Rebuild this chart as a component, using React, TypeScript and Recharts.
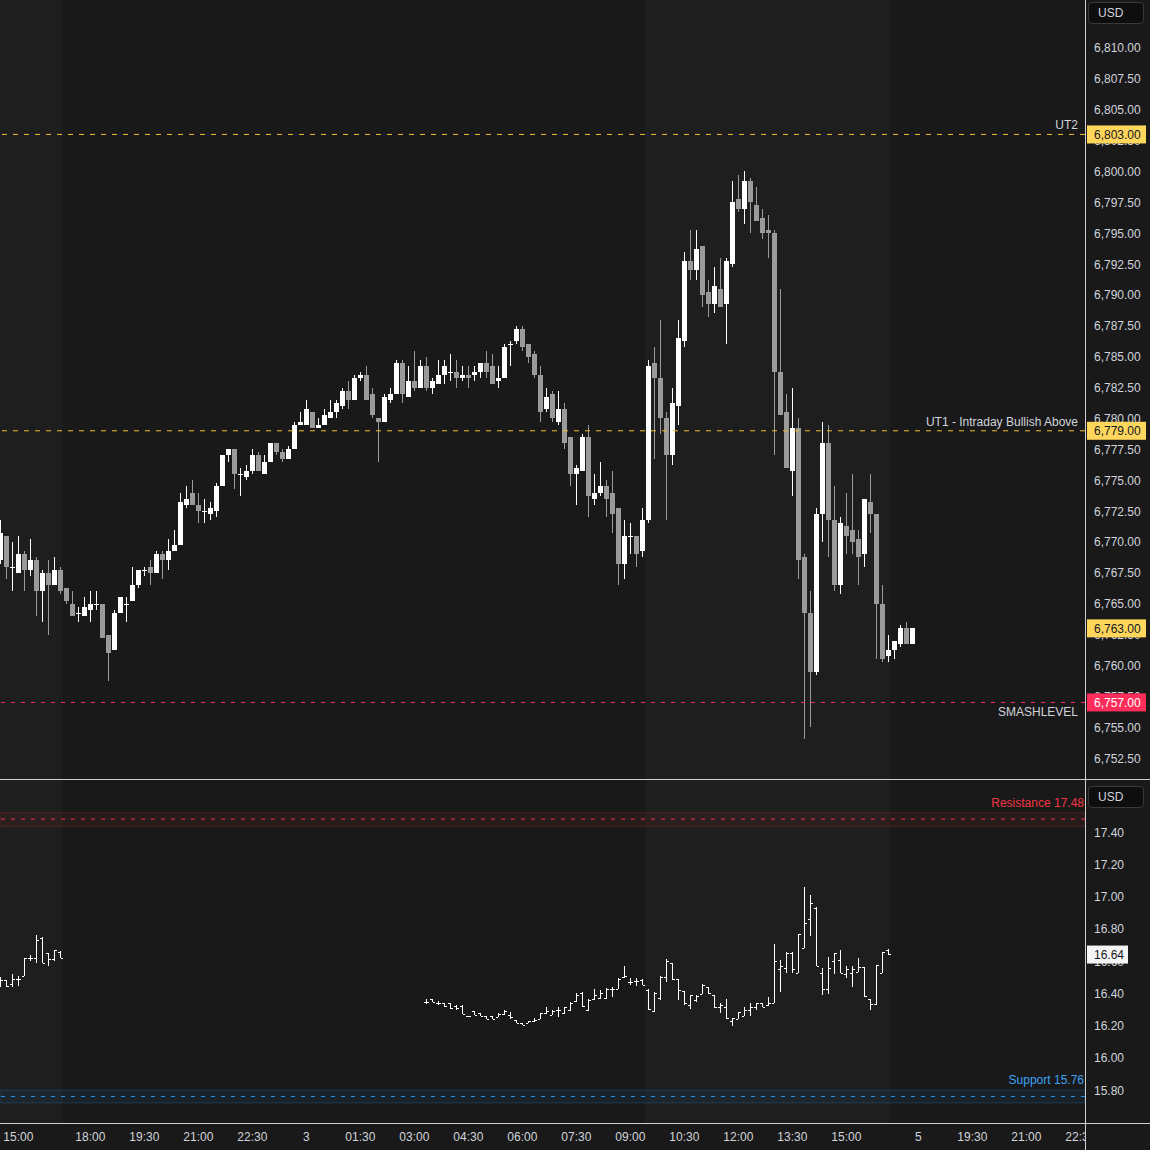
import React from "react";
import { ComposedChart, Bar, XAxis, YAxis, ReferenceLine, ReferenceArea } from "recharts";

// 10-minute ES candles, slot 0 = 14:30 (slot 3 = 15:00)
const esOpen = [
  6768.5, 6770.5, 6768, 6767.5, 6769, 6767.75, 6768.5, 6766, 6767.5, 6766.5,
  6767.75, 6766.25, 6765, 6764.25, 6764, 6764.5, 6765, 6765, 6762.5, 6761.25,
  6764.25, 6765, 6765.25, 6766.5, 6767.75, 6768, 6767.5, 6769, 6768.5, 6769.25,
  6769.75, 6773, 6774, 6773, 6772.5, 6772.25, 6772.5, 6774.5, 6777, 6777.5,
  6775.5, 6775.25, 6775.75, 6777, 6775.5, 6776.5, 6778, 6777.25, 6776.75, 6777.5,
  6779.5, 6779.5, 6780.5, 6779.25, 6779.5, 6780, 6780.5, 6781, 6782.25, 6781.5,
  6783.25, 6783.5, 6782, 6780, 6779.75, 6781.5, 6782, 6784.5, 6781.75, 6783,
  6782.5, 6784.25, 6782.5, 6782.75, 6783.5, 6783.75, 6783.75, 6783.25, 6783.5, 6783.5,
  6783.75, 6784.5, 6784.25, 6783, 6783.25, 6786, 6786.25, 6787.25, 6786, 6785.25,
  6783.5, 6780.75, 6782, 6779.75, 6780.75, 6778.5, 6775.5, 6775.75, 6778.5, 6773.5,
  6774, 6774.5, 6774, 6772.75, 6768.25, 6770.5, 6770.5, 6769.25, 6771.75, 6784.5,
  6783.25, 6780, 6777, 6781, 6786.25, 6792.75, 6792, 6794, 6790.25, 6789.25,
  6790.5, 6789.25, 6792.5, 6797.75, 6797, 6799.25, 6797.25, 6796.25, 6795.25, 6795,
  6783.75, 6780.5, 6775.75, 6779.25, 6768.75, 6764.25, 6759.5, 6772.25, 6778, 6771.75,
  6766.5, 6771.25, 6771, 6770.25, 6769, 6773.25, 6772.25, 6765, 6760.75, 6761.25,
  6761.75, 6763, 6761.75,
];
const esHigh = [
  6771.75, 6770.5, 6770, 6770.5, 6769.25, 6770.25, 6768.75, 6767.75, 6768.5, 6768.75,
  6768, 6766.25, 6766, 6764.75, 6765.5, 6766, 6766, 6765, 6762.5, 6764.5,
  6765.5, 6765.5, 6768, 6767.75, 6768, 6768.5, 6769.25, 6769.25, 6770.25, 6771,
  6774, 6774.5, 6775, 6774, 6773.5, 6773.25, 6774.75, 6777, 6777.5, 6777.5,
  6776, 6776.25, 6777.5, 6777.25, 6777, 6778, 6778, 6777.5, 6777.75, 6779.75,
  6780.5, 6781.5, 6780.5, 6780, 6780.75, 6781.5, 6781.5, 6782.5, 6783, 6783.5,
  6783.75, 6784.25, 6782.5, 6780, 6782, 6782.5, 6784.75, 6784.75, 6784.25, 6785.5,
  6784.75, 6785, 6783.25, 6784.75, 6784.75, 6785.25, 6784.75, 6784.25, 6784.25, 6784.25,
  6784.5, 6785.5, 6785.25, 6784.25, 6786, 6786.25, 6787.5, 6787.5, 6786, 6785.5,
  6784.25, 6782.5, 6782.25, 6782.25, 6781.25, 6778.5, 6776.25, 6778.75, 6779.5, 6775.5,
  6776.5, 6775, 6775.75, 6772.75, 6771.75, 6771.5, 6770.5, 6772.75, 6784.75, 6785.75,
  6788, 6780.5, 6782.5, 6788, 6793.5, 6795.25, 6795.25, 6794, 6791.25, 6792.25,
  6793, 6793, 6799.25, 6799.75, 6800, 6799.5, 6798.75, 6797, 6796.5, 6795.25,
  6790.5, 6782, 6782.5, 6780, 6769, 6766, 6772.75, 6779.75, 6779.5, 6774.5,
  6772, 6774, 6775.5, 6771, 6773.5, 6775.5, 6772.25, 6766.5, 6762.5, 6762,
  6763.25, 6763.5, 6763,
];
const esLow = [
  6768.25, 6767, 6766, 6767.5, 6766, 6767.25, 6764, 6763.5, 6762.5, 6766.5,
  6765.75, 6765, 6764, 6763.5, 6764, 6763.5, 6764.5, 6762.25, 6758.75, 6761.25,
  6764.25, 6763.5, 6765.25, 6766.25, 6767.25, 6766.5, 6767.5, 6767, 6767.75, 6769.25,
  6769.75, 6772.75, 6773, 6771.5, 6771.5, 6771.75, 6772, 6774.5, 6776.5, 6774.25,
  6773.75, 6775, 6775.5, 6775.75, 6775.5, 6776.5, 6777, 6776.5, 6776.75, 6777.5,
  6779.5, 6779.5, 6779.25, 6779.25, 6779.5, 6780, 6780, 6780.75, 6780.75, 6781.5,
  6783, 6781.5, 6780, 6776.5, 6779.75, 6781.25, 6782, 6781.25, 6781.75, 6782.25,
  6782.5, 6782.25, 6782, 6782.75, 6782.75, 6783, 6782.5, 6783, 6782.5, 6783,
  6783.25, 6783.25, 6782.75, 6782.5, 6783.25, 6784.25, 6786, 6785.5, 6784.5, 6783.25,
  6779.75, 6780.5, 6779.75, 6779.5, 6777.5, 6774.5, 6773, 6775.75, 6772, 6773,
  6773.75, 6772, 6770.75, 6766.5, 6767, 6769, 6768, 6768.75, 6771.5, 6776.75,
  6778.75, 6771.75, 6776.25, 6779.5, 6785.75, 6791.25, 6791.25, 6789, 6788.25, 6788.5,
  6789, 6786, 6792.25, 6796.75, 6795.75, 6795, 6796, 6794.5, 6793, 6777,
  6780.25, 6776, 6773.75, 6767, 6754, 6755, 6759.25, 6770, 6768.75, 6766,
  6765.75, 6769, 6769, 6766.5, 6768, 6770.75, 6760.5, 6760.25, 6760.25, 6760.5,
  6761.5, 6761.75, 6761.75,
];
const esClose = [
  6770.75, 6768, 6768, 6769, 6767.75, 6768.5, 6766, 6767.5, 6766.5, 6767.75,
  6766, 6765.25, 6764, 6764.25, 6764.75, 6765, 6765, 6762.25, 6761, 6764.25,
  6765.5, 6765, 6766.5, 6767.75, 6767.75, 6767.5, 6769, 6768.5, 6769.25, 6769.75,
  6773.25, 6773.5, 6773, 6772.5, 6772.5, 6772.75, 6774.5, 6777, 6777.5, 6775.5,
  6775.5, 6775.75, 6777, 6775.75, 6776.5, 6778, 6777.25, 6776.75, 6777.5, 6779.5,
  6779.75, 6780.75, 6779.25, 6779.5, 6780.25, 6780.5, 6781.25, 6782.25, 6781.5, 6783.25,
  6783.5, 6781.5, 6780.25, 6779.75, 6781.75, 6782, 6784.5, 6782, 6783, 6782.5,
  6784.25, 6782.5, 6783, 6783.5, 6784.25, 6783.75, 6783.25, 6783.5, 6783.25, 6783.75,
  6784.5, 6783.75, 6782.75, 6783.25, 6785.75, 6786, 6787.25, 6785.75, 6785, 6783.5,
  6780.5, 6781.75, 6780, 6780.75, 6778, 6775.5, 6776, 6778.5, 6773.75, 6774,
  6774.5, 6773.5, 6772.25, 6768.25, 6770.5, 6770.5, 6769, 6771.75, 6784.25, 6783.25,
  6780, 6777, 6781.25, 6786.5, 6792.75, 6792, 6793.75, 6790, 6789.25, 6790.75,
  6789, 6792.75, 6797.5, 6797, 6799.25, 6797.5, 6796, 6795, 6795, 6783.75,
  6780.25, 6776, 6779.25, 6768.5, 6764.25, 6759.5, 6772.25, 6778, 6771.75, 6766.5,
  6771.5, 6770.5, 6770, 6768.75, 6773.5, 6772.25, 6765, 6760.5, 6761.25, 6762,
  6763, 6761.75, 6763,
];

// VIX bars: slots 0-10 and 71-148
const vixSlots = [
  ...Array.from({ length: 11 }, (_, i) => i),
  ...Array.from({ length: 78 }, (_, i) => 71 + i),
];
const vixOpen = [
  16.48, 16.48, 16.46, 16.49, 16.51, 16.62, 16.62, 16.74, 16.65, 16.61, 16.655,
  16.348, 16.362, 16.341, 16.337, 16.337, 16.32, 16.32, 16.259, 16.288, 16.275,
  16.259, 16.259, 16.254, 16.271, 16.265, 16.234, 16.213, 16.217, 16.23, 16.242,
  16.275, 16.267, 16.296, 16.275, 16.296, 16.35, 16.4, 16.296, 16.362, 16.37,
  16.37, 16.424, 16.428, 16.503, 16.47, 16.474, 16.482, 16.42, 16.288, 16.37,
  16.5, 16.59, 16.486, 16.416, 16.327, 16.36, 16.395, 16.44, 16.39, 16.312,
  16.316, 16.23, 16.238, 16.261, 16.296, 16.316, 16.337, 16.327, 16.341, 16.548,
  16.554, 16.651, 16.523, 16.678, 16.86, 16.928, 16.523, 16.426, 16.602, 16.606,
  16.519, 16.523, 16.533, 16.564, 16.362, 16.333, 16.523, 16.668,
];
const vixHigh = [
  16.5, 16.48, 16.52, 16.51, 16.62, 16.64, 16.76, 16.75, 16.65, 16.67, 16.66,
  16.362, 16.362, 16.354, 16.337, 16.337, 16.325, 16.325, 16.262, 16.288, 16.275,
  16.259, 16.259, 16.275, 16.296, 16.286, 16.234, 16.213, 16.23, 16.244, 16.28,
  16.312, 16.296, 16.317, 16.317, 16.346, 16.4, 16.408, 16.362, 16.424, 16.42,
  16.432, 16.436, 16.495, 16.569, 16.492, 16.492, 16.486, 16.424, 16.408, 16.51,
  16.61, 16.59, 16.49, 16.416, 16.389, 16.39, 16.457, 16.44, 16.39, 16.337,
  16.362, 16.248, 16.286, 16.312, 16.341, 16.341, 16.341, 16.378, 16.705, 16.606,
  16.657, 16.657, 16.767, 17.061, 17.009, 16.932, 16.554, 16.622, 16.647, 16.668,
  16.569, 16.569, 16.616, 16.564, 16.362, 16.575, 16.657, 16.672,
];
const vixLow = [
  16.44, 16.44, 16.44, 16.445, 16.51, 16.6, 16.59, 16.59, 16.57, 16.6, 16.62,
  16.333, 16.345, 16.327, 16.317, 16.3, 16.296, 16.271, 16.256, 16.263, 16.259,
  16.238, 16.238, 16.25, 16.265, 16.238, 16.213, 16.201, 16.213, 16.221, 16.238,
  16.271, 16.263, 16.254, 16.271, 16.292, 16.345, 16.317, 16.292, 16.358, 16.366,
  16.366, 16.378, 16.424, 16.494, 16.45, 16.445, 16.449, 16.296, 16.284, 16.36,
  16.47, 16.48, 16.36, 16.329, 16.3, 16.345, 16.395, 16.395, 16.306, 16.28,
  16.238, 16.199, 16.238, 16.261, 16.261, 16.296, 16.312, 16.321, 16.341, 16.41,
  16.524, 16.528, 16.523, 16.678, 16.757, 16.571, 16.389, 16.395, 16.519, 16.523,
  16.492, 16.441, 16.533, 16.379, 16.296, 16.329, 16.523, 16.637,
];
const vixClose = [
  16.48, 16.445, 16.49, 16.49, 16.62, 16.62, 16.73, 16.59, 16.61, 16.67, 16.62,
  16.348, 16.345, 16.341, 16.321, 16.308, 16.306, 16.271, 16.259, 16.267, 16.259,
  16.242, 16.238, 16.271, 16.292, 16.254, 16.217, 16.205, 16.23, 16.234, 16.275,
  16.292, 16.292, 16.296, 16.312, 16.341, 16.387, 16.32, 16.358, 16.391, 16.4,
  16.428, 16.424, 16.49, 16.505, 16.47, 16.474, 16.453, 16.3, 16.399, 16.5,
  16.6, 16.49, 16.42, 16.341, 16.389, 16.38, 16.45, 16.4, 16.312, 16.327,
  16.244, 16.244, 16.286, 16.296, 16.317, 16.337, 16.316, 16.341, 16.602, 16.569,
  16.651, 16.548, 16.767, 16.833, 16.957, 16.571, 16.426, 16.554, 16.647, 16.523,
  16.548, 16.548, 16.564, 16.383, 16.333, 16.575, 16.653, 16.641,
];

const timeSlots = [3, 15, 24, 33, 42, 51, 60, 69, 78, 87, 96, 105, 114, 123, 132, 141, 153, 162, 171, 180];
const timeLabels = [
  "15:00", "18:00", "19:30", "21:00", "22:30", "3", "01:30", "03:00", "04:30", "06:00",
  "07:30", "09:00", "10:30", "12:00", "13:30", "15:00", "5", "19:30", "21:00", "22:30",
];
const esTicks = [
  6752.5, 6755, 6757.5, 6760, 6762.5, 6765, 6767.5, 6770, 6772.5, 6775, 6777.5, 6780,
  6782.5, 6785, 6787.5, 6790, 6792.5, 6795, 6797.5, 6800, 6802.5, 6805, 6807.5, 6810,
];
const vixTicks = [15.8, 16.0, 16.2, 16.4, 16.6, 16.8, 17.0, 17.2, 17.4];

const esData = esOpen.map((o, i) => ({
  slot: i,
  open: o,
  high: esHigh[i],
  low: esLow[i],
  close: esClose[i],
  range: [esLow[i], esHigh[i]],
}));
const vixData = vixSlots.map((s, i) => ({
  slot: s,
  open: vixOpen[i],
  high: vixHigh[i],
  low: vixLow[i],
  close: vixClose[i],
  range: [vixLow[i], vixHigh[i]],
}));

const BG = "#191919";
const SHADE = "#1e1e1e";
const CHROME = "#cfcfcf";
const TEXT = "#d1d4dc";
const FONT = "'Liberation Sans', Arial, sans-serif";
const YELLOW_LINE = "#f2c12e";
const YELLOW_BOX = "#ffd65c";
const RED = "#ff2d5a";
const X_DOMAIN = [-0.05, 180.78];
const ES_DOMAIN = [6750.8, 6813.887];
const VIX_DOMAIN = [15.5954, 17.7225];
const MARGIN = { top: 0, right: 0, bottom: 0, left: 0 };

const fmtEs = (v: number) =>
  v.toLocaleString("en-US", { minimumFractionDigits: 2, maximumFractionDigits: 2 });

// map a price inside a bar's [low, high] range to a pixel
function bodyScale(props: any) {
  const { y, height, payload } = props;
  const top = Math.min(y, y + height);
  const h = Math.abs(height);
  const span = payload.high - payload.low;
  return {
    top,
    h,
    py: (v: number) => (span > 0 ? top + ((payload.high - v) / span) * h : top),
  };
}

const Candle = (props: any) => {
  const { x, width, payload } = props;
  if (payload == null || payload.high == null) return null;
  const { top, h, py } = bodyScale(props);
  const up = payload.close >= payload.open;
  const color = up ? "#ffffff" : "#9a9a9a";
  const cx = Math.floor(x + width / 2);
  const wTop = Math.round(top);
  const wBot = Math.round(top + h);
  const bTop = Math.round(py(Math.max(payload.open, payload.close)));
  const bBot = Math.round(py(Math.min(payload.open, payload.close)));
  return (
    <g>
      <rect x={cx} y={wTop} width={1} height={Math.max(1, wBot - wTop)} fill={color} />
      <rect x={cx - 2} y={bTop} width={5} height={Math.max(1, bBot - bTop)} fill={color} />
    </g>
  );
};

const OhlcBar = (props: any) => {
  const { x, width, payload } = props;
  if (payload == null || payload.high == null) return null;
  const { top, h, py } = bodyScale(props);
  const cx = Math.floor(x + width / 2);
  const wTop = Math.round(top);
  const wBot = Math.round(top + h);
  return (
    <g fill="#ffffff">
      <rect x={cx} y={wTop} width={1} height={Math.max(1, wBot - wTop)} />
      <rect x={cx - 2} y={Math.round(py(payload.open))} width={2} height={1} />
      <rect x={cx + 1} y={Math.round(py(payload.close))} width={2} height={1} />
    </g>
  );
};

const levelLabel =
  (name: string, nameSide: "above" | "below", price: string, boxFill: string, boxText: string) =>
  (p: any) => {
    const vb = p.viewBox;
    const ly = vb.y;
    const right = vb.x + vb.width;
    return (
      <g>
        {name ? (
          <text
            x={right - 7}
            y={nameSide === "above" ? ly - 9 : ly + 10}
            textAnchor="end"
            dominantBaseline="central"
            fill={TEXT}
            fontSize={12}
          >
            {name}
          </text>
        ) : null}
        <rect x={right + 2} y={ly - 9} width={59} height={18} fill={boxFill} />
        <text x={right + 9} y={ly + 0.5} dominantBaseline="central" fill={boxText} fontSize={12}>
          {price}
        </text>
      </g>
    );
  };

const bandLabel = (name: string, color: string) => (p: any) => {
  const vb = p.viewBox;
  const right = vb.x + vb.width;
  return (
    <text x={right - 1} y={vb.y - 16} textAnchor="end" dominantBaseline="central" fill={color} fontSize={12}>
      {name}
    </text>
  );
};

const vixBox = (p: any) => {
  const vb = p.viewBox;
  const right = vb.x + vb.width;
  return (
    <g>
      <rect x={right + 2} y={vb.y - 9} width={41} height={18} fill="#f5f5f5" />
      <text x={right + 9} y={vb.y + 0.5} dominantBaseline="central" fill="#131722" fontSize={12}>
        16.64
      </text>
    </g>
  );
};

function PriceChart() {
  return (
    <ComposedChart width={1150} height={779} data={esData} margin={MARGIN}>
      <ReferenceArea x1={-0.05} x2={10.4} fill={SHADE} fillOpacity={1} stroke="none" ifOverflow="hidden" />
      <ReferenceArea x1={107.45} x2={148.3} fill={SHADE} fillOpacity={1} stroke="none" ifOverflow="hidden" />
      <XAxis type="number" dataKey="slot" domain={X_DOMAIN} allowDataOverflow hide />
      <YAxis
        orientation="right"
        width={65}
        domain={ES_DOMAIN}
        allowDataOverflow
        ticks={esTicks}
        interval={0}
        axisLine={false}
        tickLine={false}
        tick={(p: any) => (
          <text x={1094} y={p.y + 0.5} dominantBaseline="central" fill={TEXT} fontSize={12}>
            {fmtEs(p.payload.value)}
          </text>
        )}
      />
      <Bar dataKey="range" barSize={5} shape={<Candle />} isAnimationActive={false} />
    </ComposedChart>
  );
}

// level lines and price boxes, layered above the price chart with the same scales
function PriceLevels() {
  return (
    <ComposedChart width={1150} height={779} data={esData} margin={MARGIN}>
      <XAxis type="number" dataKey="slot" domain={X_DOMAIN} allowDataOverflow hide />
      <YAxis orientation="right" width={65} domain={ES_DOMAIN} allowDataOverflow axisLine={false} tickLine={false} tick={false} />
      <ReferenceLine y={6803} stroke={YELLOW_LINE} strokeDasharray="5 6" label={levelLabel("UT2", "above", "6,803.00", YELLOW_BOX, "#131722")} />
      <ReferenceLine
        y={6779}
        stroke={YELLOW_LINE}
        strokeDasharray="5 6"
        label={levelLabel("UT1 - Intraday Bullish Above", "above", "6,779.00", YELLOW_BOX, "#131722")}
      />
      <ReferenceLine y={6757} stroke={RED} strokeDasharray="4 6" label={levelLabel("SMASHLEVEL", "below", "6,757.00", RED, "#ffffff")} />
      <ReferenceLine y={6763} stroke="none" strokeOpacity={0} label={levelLabel("", "above", "6,763.00", YELLOW_BOX, "#131722")} />
    </ComposedChart>
  );
}

function VixChart() {
  return (
    <ComposedChart width={1150} height={370} data={vixData} margin={MARGIN}>
      <ReferenceArea x1={-0.05} x2={10.4} fill={SHADE} fillOpacity={1} stroke="none" ifOverflow="hidden" />
      <ReferenceArea x1={107.45} x2={148.3} fill={SHADE} fillOpacity={1} stroke="none" ifOverflow="hidden" />
      <XAxis
        type="number"
        dataKey="slot"
        domain={X_DOMAIN}
        allowDataOverflow
        ticks={timeSlots}
        interval={0}
        height={27}
        axisLine={false}
        tickLine={false}
        tick={(p: any) => (
          <text x={p.x} y={357} textAnchor="middle" dominantBaseline="central" fill={TEXT} fontSize={12}>
            {timeLabels[timeSlots.indexOf(p.payload.value)]}
          </text>
        )}
      />
      <YAxis
        orientation="right"
        width={65}
        domain={VIX_DOMAIN}
        allowDataOverflow
        ticks={vixTicks}
        interval={0}
        axisLine={false}
        tickLine={false}
        tick={(p: any) => (
          <text x={1094} y={p.y + 0.5} dominantBaseline="central" fill={TEXT} fontSize={12}>
            {p.payload.value.toFixed(2)}
          </text>
        )}
      />
      <ReferenceArea y1={17.435} y2={17.52} fill="rgba(242,54,69,0.14)" stroke="rgba(242,54,69,0.22)" ifOverflow="hidden" />
      <ReferenceArea y1={15.72} y2={15.8} fill="rgba(33,150,243,0.14)" stroke="rgba(33,150,243,0.22)" ifOverflow="hidden" />
      <Bar dataKey="range" barSize={5} shape={<OhlcBar />} isAnimationActive={false} />
    </ComposedChart>
  );
}

function VixLevels() {
  return (
    <ComposedChart width={1150} height={370} data={vixData} margin={MARGIN}>
      <XAxis type="number" dataKey="slot" domain={X_DOMAIN} allowDataOverflow height={27} axisLine={false} tickLine={false} tick={false} />
      <YAxis orientation="right" width={65} domain={VIX_DOMAIN} allowDataOverflow axisLine={false} tickLine={false} tick={false} />
      <ReferenceLine y={17.48} stroke="#f23645" strokeDasharray="4 6" label={bandLabel("Resistance 17.48", "#f23645")} />
      <ReferenceLine y={15.76} stroke="#2196f3" strokeDasharray="4 6" label={bandLabel("Support 15.76", "#3fa3f5")} />
      <ReferenceLine y={16.64} stroke="none" strokeOpacity={0} label={vixBox} />
    </ComposedChart>
  );
}

const usdBox = (top: number): React.CSSProperties => ({
  position: "absolute",
  left: 1088,
  top,
  width: 56,
  height: 22,
  boxSizing: "border-box",
  border: "1px solid #3a3a3a",
  borderRadius: 4,
  background: "#0e0e0e",
  color: TEXT,
  fontSize: 12,
  lineHeight: "20px",
  paddingLeft: 9,
});

const layer = (top: number): React.CSSProperties => ({ position: "absolute", left: 0, top, pointerEvents: "none" });

export default function App() {
  return (
    <div
      style={{
        position: "absolute",
        left: 0,
        top: 0,
        width: 1150,
        height: 1150,
        background: BG,
        fontFamily: FONT,
        overflow: "hidden",
      }}
    >
      <div style={layer(0)}>
        <PriceChart />
      </div>
      <div style={layer(0)}>
        <PriceLevels />
      </div>
      <div style={layer(780)}>
        <VixChart />
      </div>
      <div style={layer(780)}>
        <VixLevels />
      </div>
      {/* pane chrome */}
      <div style={{ position: "absolute", left: 0, top: 779, width: 1150, height: 1, background: CHROME }} />
      <div style={{ position: "absolute", left: 0, top: 1123, width: 1150, height: 1, background: CHROME }} />
      <div style={{ position: "absolute", left: 1086, top: 1124, width: 64, height: 26, background: BG }} />
      <div style={{ position: "absolute", left: 1085, top: 0, width: 1, height: 1150, background: CHROME }} />
      <div style={usdBox(2)}>USD</div>
      <div style={usdBox(786)}>USD</div>
    </div>
  );
}
